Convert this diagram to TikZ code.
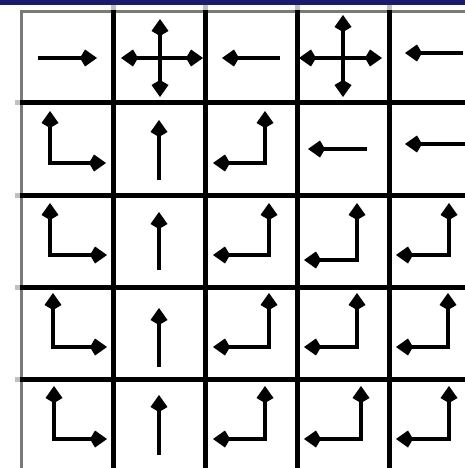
\documentclass[tikz,border=0pt]{standalone}
\usetikzlibrary{arrows.meta}
\definecolor{navybar}{RGB}{26,26,110}
\definecolor{bordergray}{RGB}{122,122,122}
\begin{document}
\begin{tikzpicture}[x=1pt,y=-1pt,
  headtip/.tip={Kite[length=17pt,width=17pt,inset=5pt]},
  arr/.style={line width=4.5pt, -headtip},
  arrs/.style={line width=4.5pt, headtip-headtip},
  gridline/.style={line width=5pt, black},
  borderline/.style={line width=3.5pt, bordergray},
  stub/.style={line width=5pt, black!25}]
\useasboundingbox (0,0) rectangle (465,468);
\fill[navybar] (0,0) rectangle (465,5);
% faint stubs
\foreach \x in {113.5,205.5,297,389} \draw[stub] (\x,5) -- (\x,10);
\foreach \y in {103,195.5,287.5,379} \draw[stub] (15,\y) -- (20,\y);
% border
\draw[borderline] (20,11.5) -- (465,11.5);
\draw[borderline] (21.5,10) -- (21.5,468);
% grid
\foreach \x in {113.5,205.5,297,389} \draw[gridline] (\x,10) -- (\x,468);
\foreach \y in {103,195.5,287.5,379} \draw[gridline] (20,\y) -- (465,\y);
% row 0
\draw[arr] (38,58) -- (97,58);
\draw[arrs] (121,58) -- (203,58);
\draw[arrs] (160,19) -- (160,97);
\draw[arr] (280,58) -- (222,58);
\draw[arrs] (299,58) -- (382,58);
\draw[arrs] (343,15) -- (343,97);
\draw[arr] (463,53) -- (405,53);
% row 1
\draw[arrs] (50,111) -- (50,163) -- (106,163);
\draw[arr] (159,180) -- (159,120);
\draw[arrs] (213,163) -- (265,163) -- (265,111);
\draw[arr] (367,149) -- (308,149);
\draw[arr] (465,144) -- (405,144);
% row 2
\draw[arrs] (50,203) -- (50,255) -- (107,255);
\draw[arr] (159,270) -- (159,212);
\draw[arrs] (213,255) -- (269,255) -- (269,203);
\draw[arrs] (304,260) -- (357,260) -- (357,203);
\draw[arrs] (396,255) -- (449,255) -- (449,203);
% row 3
\draw[arrs] (53,293) -- (53,347) -- (107,347);
\draw[arr] (159,367) -- (159,308);
\draw[arrs] (213,347) -- (269,347) -- (269,293);
\draw[arrs] (304,347) -- (357,347) -- (357,293);
\draw[arrs] (396,347) -- (448,347) -- (448,293);
% row 4
\draw[arrs] (54,386) -- (54,439) -- (107,439);
\draw[arr] (159,455) -- (159,395);
\draw[arrs] (213,439) -- (265,439) -- (265,386);
\draw[arrs] (304,439) -- (361,439) -- (361,386);
\draw[arrs] (396,439) -- (449,439) -- (449,386);
\end{tikzpicture}
\end{document}
